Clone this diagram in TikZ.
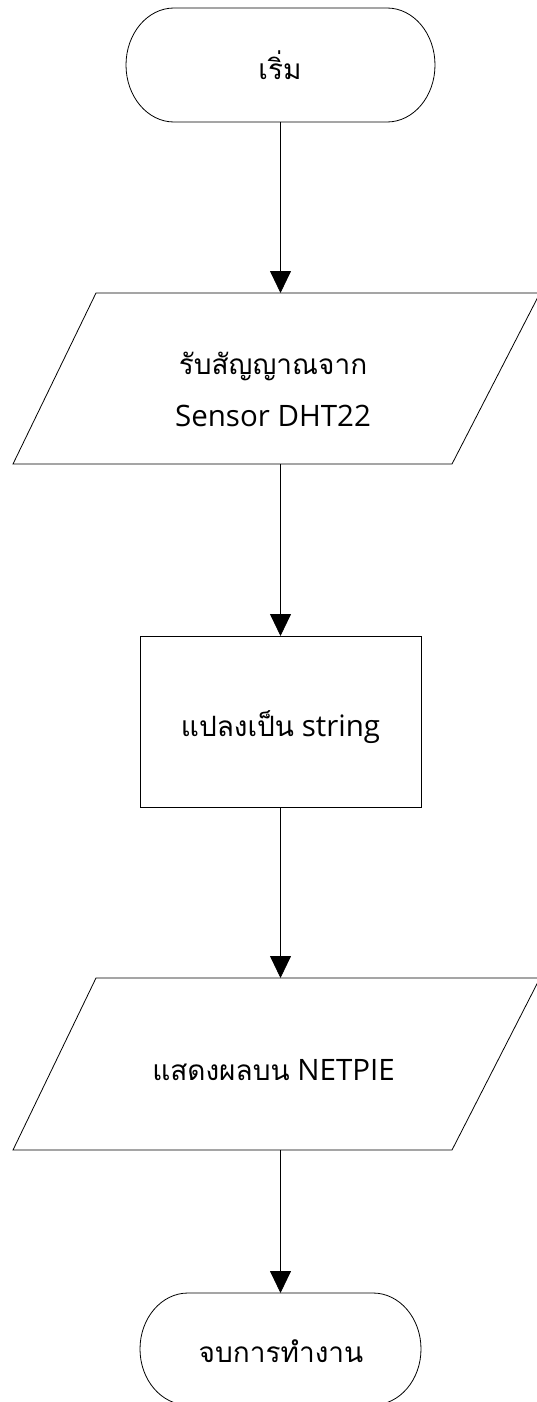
\documentclass[tikz,border=0pt]{standalone}
\usepackage{fontspec}
\newfontfamily\thaifont[Script=Thai]{Loma}
\newfontfamily\latfont{Open Sans}
\newcommand\thtxt[1]{{\thaifont\fontsize{28}{52}\selectfont #1}}
\usetikzlibrary{arrows.meta,calc}
\begin{document}
\begin{tikzpicture}[x=1pt,y=-1pt,
  line width=0.8pt,
  txt/.style={font=\latfont\fontsize{29.5}{52}\selectfont, align=center, inner sep=0pt},
  box/.style={inner sep=0pt, outer sep=0pt},
  arr/.style={-{Triangle[length=22pt,width=21pt]}}]
\useasboundingbox (0,0) rectangle (536,1402);
% start terminal
\node[box, minimum width=309pt, minimum height=114pt] (start) at (280.5,65) {};
\draw ([xshift=48pt]start.north west) -- ([xshift=-48pt]start.north east)
  arc[start angle=90,end angle=-90,x radius=48pt,y radius=57pt]
  -- ([xshift=48pt]start.south west)
  arc[start angle=270,end angle=90,x radius=48pt,y radius=57pt] -- cycle;
\node[txt] (tstart) at (280,65) {\thtxt{เริ่ม}};
% input parallelogram
\node[box, minimum width=527pt, minimum height=171pt] (in) at (276.5,378.5) {};
\draw ($(in.south west)$) -- ($(in.north west)+(83,0)$) -- (in.north east) -- ($(in.south east)+(-88,0)$) -- cycle;
\node[txt] (tin) at (273,389) {\thtxt{รับสัญญาณจาก}\\Sensor DHT22};
% process
\node[box, draw, minimum width=281pt, minimum height=171pt] (proc) at (280.5,721.5) {};
\node[txt] (tproc) at (280.5,727) {\thtxt{แปลงเป็น} string};
% output parallelogram
\node[box, minimum width=527pt, minimum height=172pt] (out) at (276.5,1064) {};
\draw ($(out.south west)$) -- ($(out.north west)+(83,0)$) -- (out.north east) -- ($(out.south east)+(-88,0)$) -- cycle;
\node[txt] (tout) at (273.5,1070) {\thtxt{แสดงผลบน} NETPIE};
% end terminal
\node[box, minimum width=281pt, minimum height=112pt] (stop) at (280.5,1349) {};
\draw ([xshift=48pt]stop.north west) -- ([xshift=-48pt]stop.north east)
  arc[start angle=90,end angle=-90,x radius=48pt,y radius=56pt]
  -- ([xshift=48pt]stop.south west)
  arc[start angle=270,end angle=90,x radius=48pt,y radius=56pt] -- cycle;
\node[txt] (tstop) at (281,1351) {\thtxt{จบการทำงาน}};
% connectors
\draw[arr] (start.south) -- (start.south |- in.north);
\draw[arr] (proc.north |- in.south) -- (proc.north);
\draw[arr] (proc.south) -- (proc.south |- out.north);
\draw[arr] (stop.north |- out.south) -- (stop.north);
\end{tikzpicture}
\end{document}
